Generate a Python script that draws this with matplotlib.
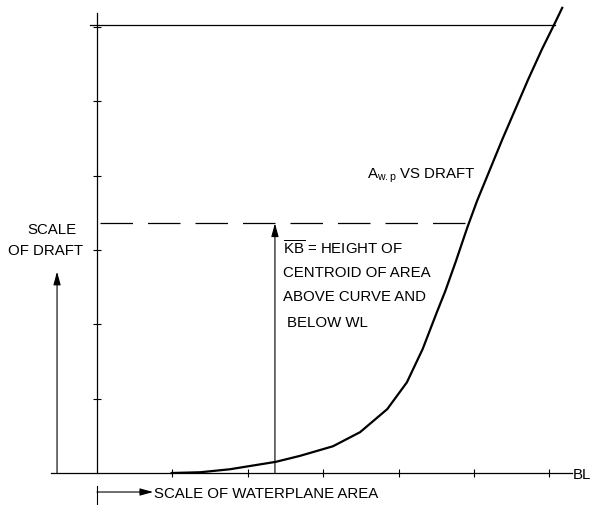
import matplotlib
matplotlib.use('Agg')
import matplotlib.pyplot as plt
import numpy as np

plt.rcParams['font.family'] = ['Liberation Sans', 'DejaVu Sans']
plt.rcParams['mathtext.fontset'] = 'custom'
plt.rcParams['mathtext.rm'] = 'Liberation Sans'
plt.rcParams['mathtext.it'] = 'Liberation Sans'

# waterplane area (scale units) vs draft (scale units)
area = [0.99, 1.37, 1.76, 2.37, 2.69, 3.13, 3.49, 3.85, 4.11, 4.32,
        4.51, 4.62, 4.76, 4.91, 5.04, 5.21, 5.38, 5.55, 5.72, 5.90, 6.08, 6.17]
draft = [0.0, 0.01, 0.05, 0.15, 0.23, 0.36, 0.55, 0.86, 1.22, 1.67,
         2.17, 2.45, 2.85, 3.30, 3.66, 4.08, 4.50, 4.90, 5.30, 5.70, 6.07, 6.26]

wl_draft = 6.03      # design waterline
kb_draft = 3.36      # height of centroid
kb_area = 2.36       # where KB is measured
x_ticks = [1, 2, 3, 4, 5, 6]
y_ticks = [1, 2, 3, 4, 5, 6]

fig = plt.figure(figsize=(5.91, 5.06), dpi=100)
ax = fig.add_axes([0, 0, 1, 1])
ax.set_xlim(-1.2865, 6.552)
ax.set_ylim(-0.4307, 6.3795)

# axes as spines through the origin
for s in ['top', 'right']:
    ax.spines[s].set_visible(False)
ax.spines['left'].set_position(('data', 0))
ax.spines['bottom'].set_position(('data', 0))
ax.spines['left'].set_bounds(0, 6.19)
ax.spines['bottom'].set_bounds(-0.61, 6.30)
for s in ['left', 'bottom']:
    ax.spines[s].set_linewidth(0.9)
ax.set_xticks(x_ticks)
ax.set_yticks(y_ticks)
ax.set_xticklabels([])
ax.set_yticklabels([])
ax.tick_params(direction='inout', length=6, width=0.8)

# curve
ax.plot(area, draft, color='k', lw=1.6)

# waterline and KB dashed line
ax.plot([-0.09, 6.07], [wl_draft, wl_draft], color='k', lw=0.9)
ax.plot([0.04, 4.93], [kb_draft, kb_draft], color='k', lw=0.9,
        linestyle=(0, (26, 12)))

arrow = dict(arrowstyle='-|>,head_length=0.8,head_width=0.22', color='k',
             lw=0.8, mutation_scale=10, shrinkA=0, shrinkB=0)
ax.annotate('', xy=(kb_area, kb_draft), xytext=(kb_area, 0), arrowprops=arrow)
ax.annotate('', xy=(-0.53, 2.71), xytext=(-0.53, 0), arrowprops=arrow)
ax.annotate('', xy=(0.745, -0.256), xytext=(0, -0.256), arrowprops=arrow)
ax.plot([0, 0], [-0.175, -0.43], color='k', lw=0.8)

fs = 10.8
ax.text(-0.928, 3.23, 'SCALE', fontsize=fs, va='baseline')
ax.text(-1.18, 2.95, 'OF DRAFT', fontsize=fs, va='baseline')
ax.text(3.58, 3.98, r'A$_{\mathrm{w.p}}$ VS DRAFT', fontsize=fs, va='baseline')
ax.text(2.467, 2.95, r'$\overline{\mathrm{KB}}$ = HEIGHT OF', fontsize=fs, va='baseline')
ax.text(2.467, 2.65, 'CENTROID OF AREA', fontsize=fs, va='baseline')
ax.text(2.467, 2.33, 'ABOVE CURVE AND', fontsize=fs, va='baseline')
ax.text(2.52, 1.98, 'BELOW WL', fontsize=fs, va='baseline')
ax.text(0.76, -0.32, 'SCALE OF WATERPLANE AREA', fontsize=fs, va='baseline')
ax.text(6.31, -0.07, 'BL', fontsize=fs, va='baseline')

fig.savefig('out.png', dpi=100)
